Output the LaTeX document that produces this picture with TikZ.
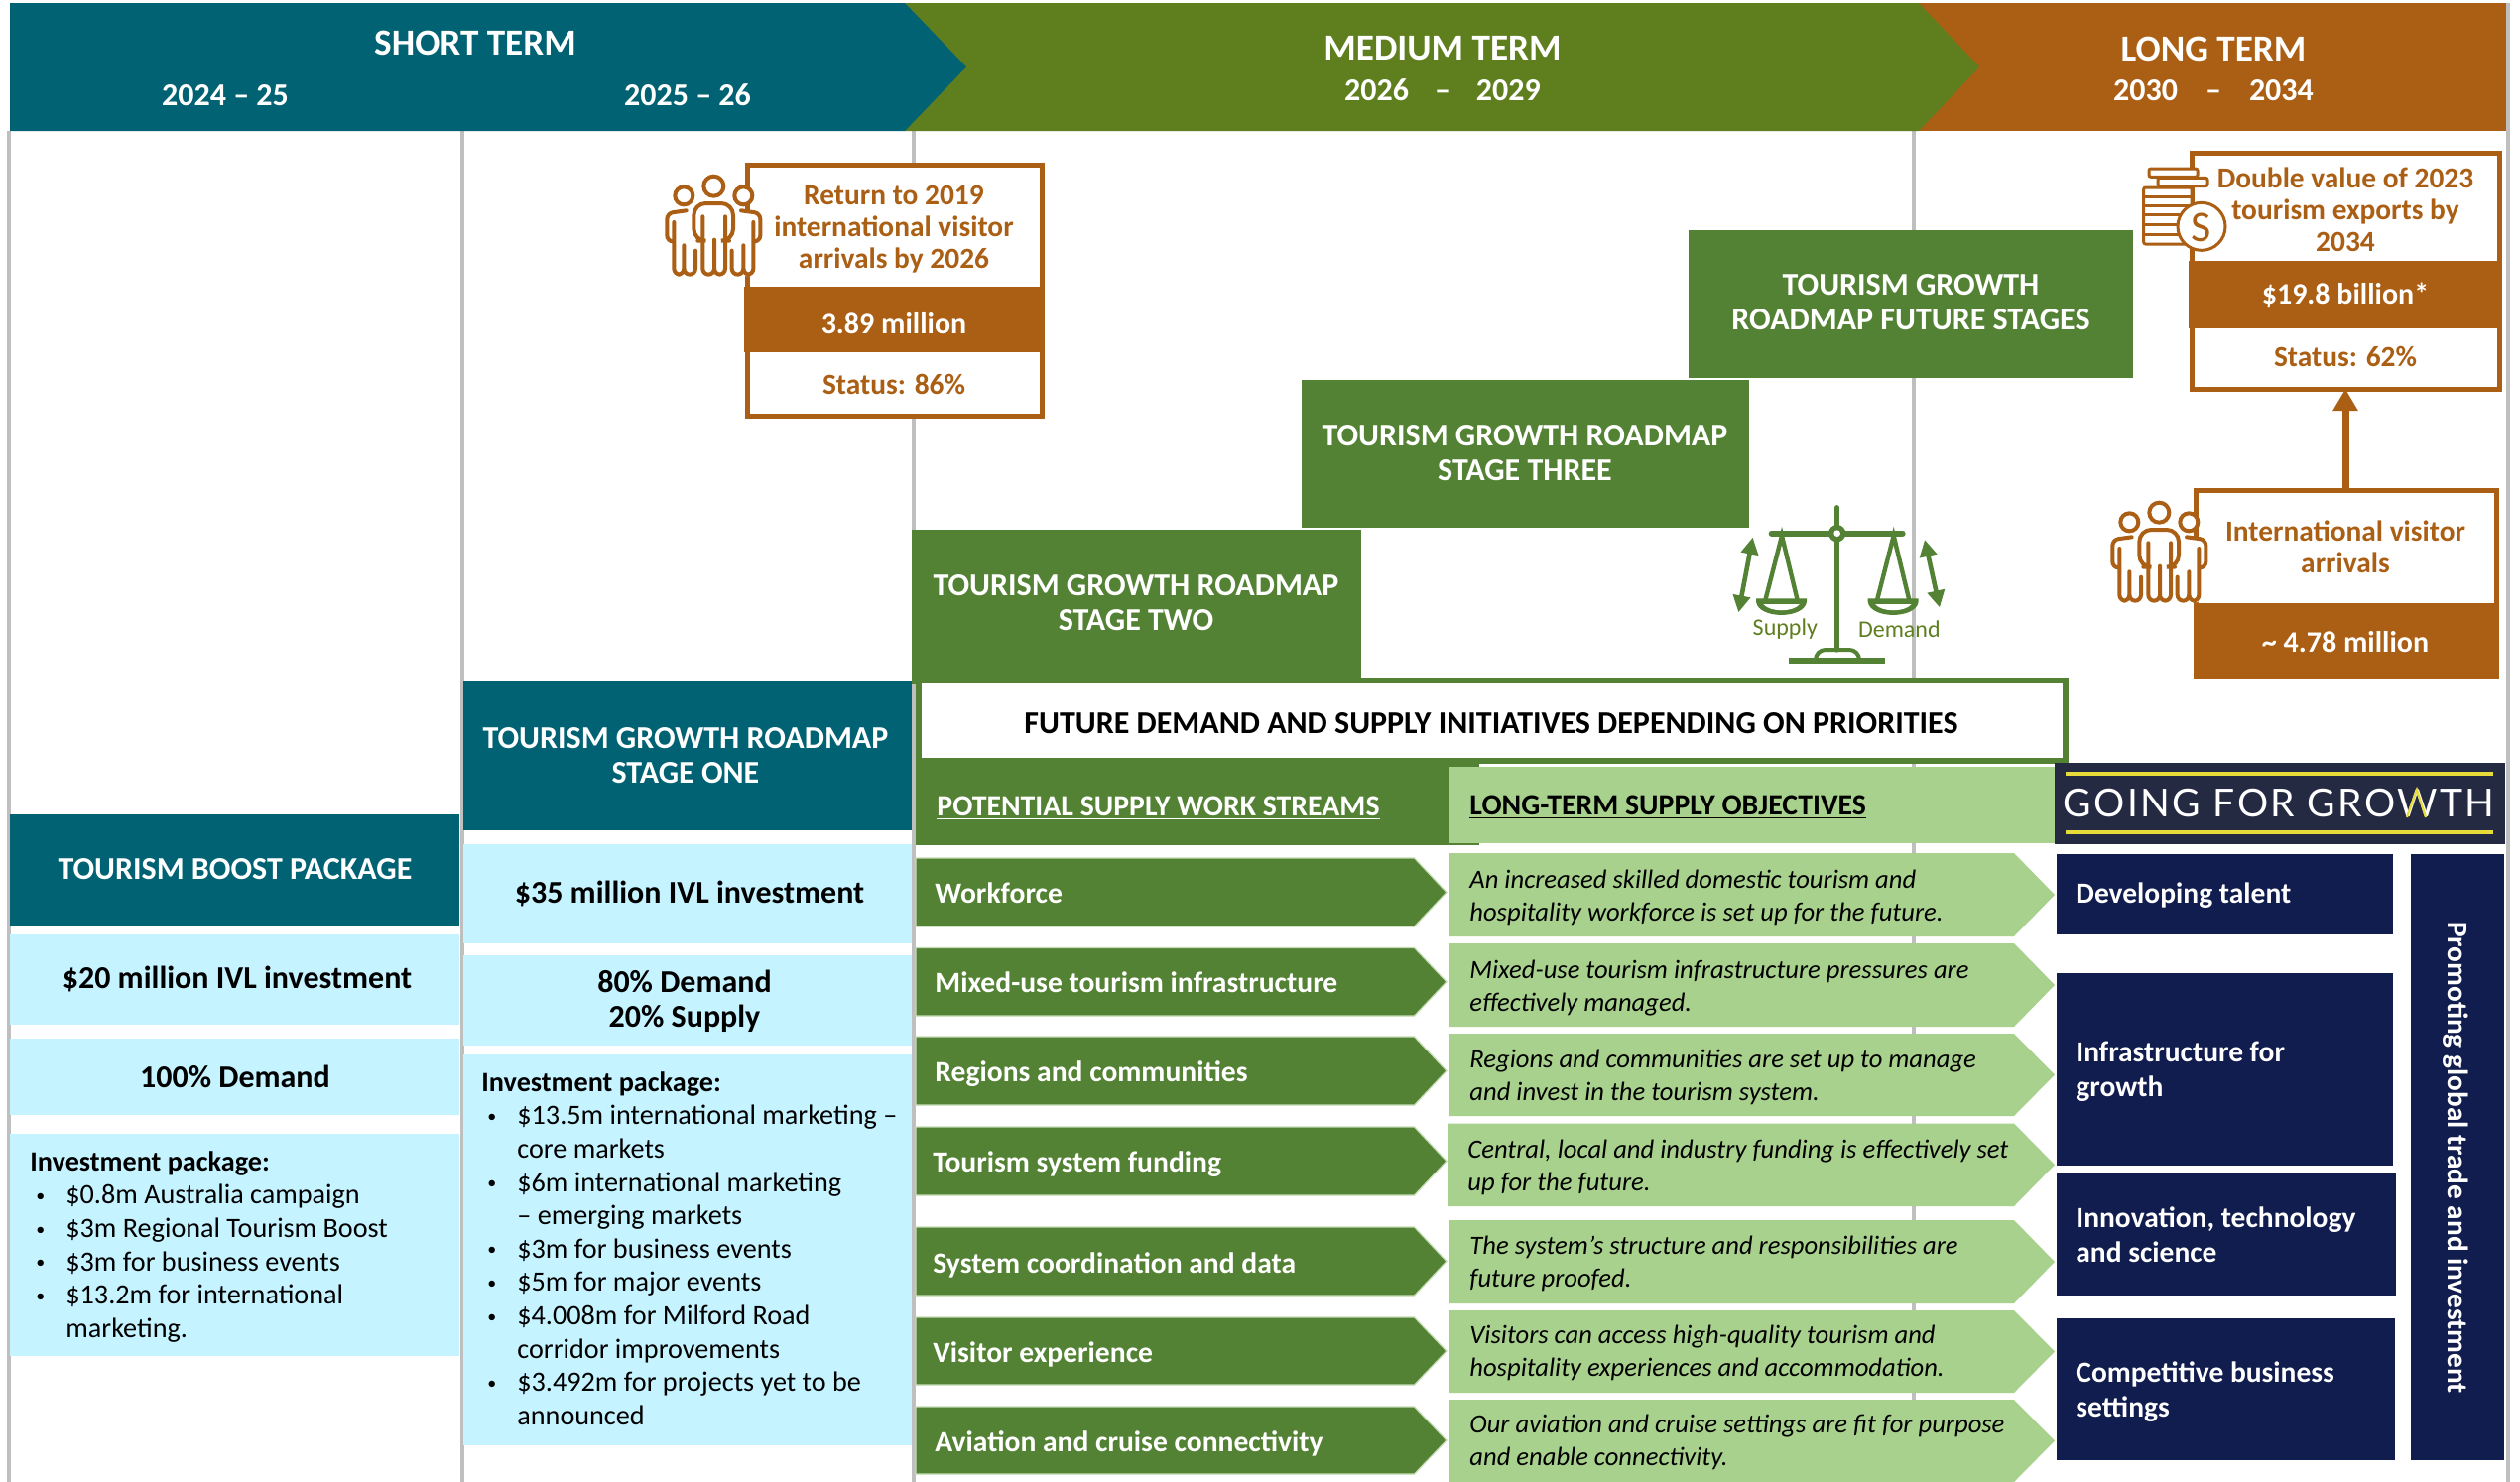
\documentclass[tikz,border=0pt]{standalone}
\usepackage{fontspec}
\setmainfont{Carlito}
\newfontfamily\gfgfont[LetterSpace=6.3]{Lato}
\usetikzlibrary{arrows.meta}
\definecolor{teal}{HTML}{006272}
\definecolor{medgreen}{HTML}{5F7F1F}
\definecolor{ochre}{HTML}{AB5F14}
\definecolor{stage}{HTML}{548235}
\definecolor{pale}{HTML}{C5F3FF}
\definecolor{lightg}{HTML}{A9D18E}
\definecolor{edgeg}{HTML}{C5DDB5}
\definecolor{navy}{HTML}{111D4E}
\definecolor{logo}{HTML}{252A43}
\definecolor{rule}{HTML}{BFBFBF}
\definecolor{yel}{HTML}{E8DC3A}
\newcommand\fsz[2][16.8]{\fontsize{#2}{#1}\selectfont}
\newcommand\bx[6][]{%
  \pgfmathsetmacro\rw{(#4-#2)*0.5}\pgfmathsetmacro\rh{(#5-#3)*0.5}%
  \node[rectangle,inner sep=0pt,outer sep=0pt,minimum width=\rw pt,minimum height=\rh pt,anchor=north west,#1] (#6) at (#2,#3) {};}
\newcommand\chev[6]{% fill x1 y1 xs tip y2
  \pgfmathsetmacro\my{(#3+#6)*0.5}%
  \fill[#1] (#2,#3)--(#4,#3)--(#5,\my)--(#4,#6)--(#2,#6)--cycle;}
\newcommand\peopleicon[2]{%
 \begin{scope}[shift={(#1,#2)},scale=0.33333,ico/.style={draw=ochre,line width=2pt,line cap=round,rounded corners=3pt}]
  \fill[white] (300,190)--(379,190)--(379,270)--(356,285)--(356,384)--(300,384)--cycle;
  \draw[ico] (155,187)--(97,195)--(97,280)--(112,280);
  \draw[ico] (118,222)--(118,380)--(148,380)--(148,292);
  \draw[ico] (148,370)--(148,380)--(183,380)--(183,308);
  \draw[ico] (205,205)--(205,380)--(240,380)--(240,275);
  \draw[ico] (240,370)--(240,380)--(273,380)--(273,205);
  \draw[ico,rounded corners=6pt] (190,278)--(178,278)--(178,165)--(297,165)--(297,278)--(285,278);
  \draw[ico] (321,187)--(379,195)--(379,280)--(364,280);
  \draw[ico] (358,222)--(358,380)--(328,380)--(328,292);
  \draw[ico] (328,370)--(328,380)--(293,380)--(293,308);
  \draw[draw=ochre,line width=2pt] (148,142) circle[radius=27];
  \draw[draw=ochre,line width=2pt] (238,113) circle[radius=30];
  \draw[draw=ochre,line width=2pt,fill=white] (328,142) circle[radius=27];
 \end{scope}}
\newcommand\scalepan{%
  \draw[stage,line width=2.2pt,line cap=round] (178,345)--(228,150)--(275,345);
  \fill[stage] (150,340)--(303,340)--(303,350) .. controls (295,403) and (158,403) .. (150,350)--cycle;
  \fill[white] (172,357)--(282,357) .. controls (262,382) and (192,382) .. cycle;}
\tikzset{
  hd/.style={text=white,font=\bfseries\fsz{18.6},inner sep=0pt},
  yr/.style={text=white,font=\bfseries\fsz{16},inner sep=0pt},
  stg/.style={text=white,font=\bfseries\fsz[17.5]{16},align=center,inner sep=0pt},
  ttl/.style={text=black,font=\bfseries\fsz[17.5]{16},align=center,inner sep=0pt},
  otx/.style={text=ochre,font=\bfseries\fsz[16]{14.7},align=center,inner sep=0pt},
  wtx/.style={text=white,font=\bfseries\fsz{15},align=center,inner sep=0pt},
  lst/.style={text=black,font=\fsz{14.1},align=left,inner sep=0pt,anchor=north west},
  grn/.style={text=white,font=\bfseries\fsz{14.8},anchor=west,inner sep=0pt},
  grh/.style={font=\bfseries\fsz{14.9},anchor=west,inner sep=0pt},
  obj/.style={text=black,font=\itshape\fsz[16.2]{13.3},align=left,anchor=west,inner sep=0pt},
  nvt/.style={text=white,font=\bfseries\fsz[17.7]{14.75},align=left,anchor=west,inner sep=0pt},
  vline/.style={draw=rule,line width=2pt},
  rowg/.style={fill=stage,draw=edgeg,line width=.6pt},
}
\newcommand\bul{\hspace*{3pt}\makebox[15pt][l]{\raisebox{1.2pt}{\fontsize{9}{9}\selectfont •}}}
\newcommand\nobul{\hspace*{18pt}}
\begin{document}
\begin{tikzpicture}[x=0.5pt,y=-0.5pt]
\useasboundingbox (0,0) rectangle (2540,1494);
\fill[white] (0,0) rectangle (2540,1494);
% rules
\draw[vline] (9,132)--(9,1494);
\draw[vline] (466,132)--(466,1494);
\draw[vline] (921,132)--(921,1494);
\draw[vline] (1929,132)--(1929,1494);
\draw[vline] (2528,3)--(2528,1494);
% header
\fill[ochre] (1934,3)--(2526,3)--(2526,132)--(1934,132)--cycle;
\chev{medgreen}{912}{3}{1934}{1995}{132}
\chev{teal}{10}{3}{912}{974}{132}
\node[hd] (shortterm) at (479,43) {SHORT TERM};
\node[yr] (y1) at (227,96) {2024 – 25};
\node[yr] (y2) at (693,96) {2025 – 26};
\node[hd] (medterm) at (1454,49) {MEDIUM TERM};
\node[yr] (y3) at (1454,91) {2026\hspace{13pt}–\hspace{13pt}2029};
\node[hd] (longterm) at (2231,49) {LONG TERM};
\node[yr] (y4) at (2231,91) {2030\hspace{14pt}–\hspace{14pt}2034};
% return box
\bx[draw=ochre,line width=2.5pt,fill=white]{753}{166}{1050}{419}{retbox}
\bx[fill=ochre]{750}{289}{1053}{355}{retband}
\node[otx] (rett) at (901,231) {Return to 2019\\international visitor\\arrivals by 2026};
\node[wtx] (retv) at (901,326) {3.89 million};
\node[otx] (rets) at (901,387) {Status: 86\%};
\peopleicon{640}{150}
% exports box
\bx[draw=ochre,line width=2.5pt,fill=white]{2209}{154}{2519}{392}{expbox}
\bx[fill=ochre]{2206}{263}{2522}{331}{expband}
\node[otx] (expt) at (2364,211.5) {Double value of 2023\\tourism exports by\\2034};
\node[wtx] (expv) at (2364,297) {\$19.8 billion*};
\node[otx] (exps) at (2364,359) {Status: 62\%};
% coins
\begin{scope}[shift={(2140,140)},scale=0.33333]
 \draw[ochre,line width=1.5pt,fill=white,rounded corners=1pt] (62,147) rectangle (207,318);
 \foreach \yy in {175,202,230,259,288} \draw[ochre,line width=1.5pt] (62,\yy)--(207,\yy);
 \draw[ochre,line width=1.5pt,fill=white,rounded corners=1pt] (78,90) rectangle (225,115);
 \draw[ochre,line width=1.5pt,fill=white,rounded corners=1pt] (105,118) rectangle (255,143);
 \draw[ochre,line width=1.5pt,fill=white] (237,265) circle[radius=72];
 \node[text=ochre,font=\fontsize{22}{22}\selectfont,inner sep=0pt] (coinS) at (237,267) {S};
\end{scope}
% arrivals box
\bx[draw=ochre,line width=2.5pt,fill=white]{2213.5}{494.5}{2516.5}{682}{arrbox}
\bx[fill=ochre]{2211}{608}{2519}{685}{arrband}
\node[otx] (arrt) at (2364,551) {International visitor\\arrivals};
\node[wtx] (arrv) at (2364,647) {\textasciitilde{} 4.78 million};
\peopleicon{2097}{479}
\draw[ochre,line width=3.5pt,-{Triangle[length=11pt,width=12pt]}] (arrbox.north -| expbox.south) -- (expbox.south);
% stages
\bx[fill=stage]{1702}{232}{2150}{381}{fut}
\node[stg] (futt) at (1926,305) {TOURISM GROWTH\\ROADMAP FUTURE STAGES};
\bx[fill=stage]{1312}{383}{1763}{532}{st3}
\node[stg] (st3t) at (1537,457) {TOURISM GROWTH ROADMAP\\STAGE THREE};
\bx[fill=stage]{919}{534}{1372}{690}{st2}
\node[stg] (st2t) at (1145,608) {TOURISM GROWTH ROADMAP\\STAGE TWO};
% scales
\begin{scope}[shift={(1720,490)},scale=0.33333]
 \draw[stage,line width=2.6pt,line cap=round] (395,65)--(395,495);
 \draw[stage,line width=3pt,line cap=round] (197,143)--(593,143);
 \fill[stage] (395,143) circle[radius=26];
 \fill[white] (395,143) circle[radius=10];
 \scalepan
 \begin{scope}[shift={(338,0)}]\scalepan\end{scope}
 \draw[stage,line width=2pt,rounded corners=5pt] (330,520)--(330,495)--(462,495)--(462,520);
 \fill[stage] (250,520) rectangle (540,538);
 \draw[stage,line width=2.3pt,{Triangle[length=8.5pt,width=8.5pt]}-{Triangle[length=8.5pt,width=8.5pt]}] (97,382)--(140,155);
 \draw[stage,line width=2.3pt,{Triangle[length=8.5pt,width=8.5pt]}-{Triangle[length=8.5pt,width=8.5pt]}] (660,162)--(705,367);
 \node[text=medgreen,font=\fsz{12},inner sep=0pt] (supply) at (238,433) {Supply};
 \node[text=medgreen,font=\fsz{12},inner sep=0pt] (demand) at (583,433) {Demand};
\end{scope}
% future demand
\bx[draw=stage,line width=3pt,fill=white]{926}{686}{2082}{767}{fdbox}
\node[ttl] (fdt) at (1503,729) {FUTURE DEMAND AND SUPPLY INITIATIVES DEPENDING ON PRIORITIES};
% work stream headers
\bx[fill=stage]{923}{766}{1491}{852}{wshead}
\bx[fill=lightg]{1460}{773}{2071}{850}{objhead}
\node[grh,text=white] (wst) at (944,815) {\underline{POTENTIAL SUPPLY WORK STREAMS}};
\node[grh,text=black] (objt) at (1481,814) {\underline{LONG-TERM SUPPLY OBJECTIVES}};
% logo
\bx[fill=logo]{2071}{769}{2525}{851}{logobox}
\draw[yel,line width=1.6pt] (2082,780)--(2513,780);
\draw[yel,line width=1.6pt] (2082,839)--(2513,839);
\node[text=white,font=\gfgfont\fontsize{19.5}{20}\selectfont,inner sep=0pt] (gfg) at (2297,810) {GOING FOR GROWTH};
\draw[yel,line width=1.1pt] (2426,824)--(2436,796)--(2445,824);
% green rows
\chev{rowg}{923}{865}{1425.5}{1458}{934}
\chev{rowg}{923}{955.5}{1425.5}{1458}{1024}
\chev{rowg}{923}{1045}{1425.5}{1458}{1114}
\chev{rowg}{923}{1136}{1425.5}{1458}{1205}
\chev{rowg}{923}{1237}{1425.5}{1458}{1306}
\chev{rowg}{923}{1328}{1425.5}{1458}{1396}
\chev{rowg}{923}{1418}{1425.5}{1458}{1486}
\node[grn] (w1) at (942,900) {Workforce};
\node[grn] (w2) at (942,990) {Mixed-use tourism infrastructure};
\node[grn] (w3) at (942,1083) {Regions and communities};
\node[grn] (w4) at (940,1174) {Tourism system funding};
\node[grn] (w5) at (940,1275) {System coordination and data};
\node[grn] (w6) at (940,1365) {Visitor experience};
\node[grn] (w7) at (942,1455) {Aviation and cruise connectivity};
% light rows
\chev{lightg}{1461}{860}{2030}{2071}{944}
\chev{lightg}{1461}{951}{2030}{2071}{1035}
\chev{lightg}{1461}{1042}{2030}{2071}{1125}
\chev{lightg}{1459}{1132.5}{2030}{2071}{1216}
\chev{lightg}{1461}{1230}{2030}{2071}{1314}
\chev{lightg}{1461}{1321}{2030}{2071}{1404}
\chev{lightg}{1461}{1411}{2030}{2071}{1494}
\node[obj] (o1) at (1481,905) {An increased skilled domestic tourism and\\hospitality workforce is set up for the future.};
\node[obj] (o2) at (1481,996) {Mixed-use tourism infrastructure pressures are\\effectively managed.};
\node[obj] (o3) at (1481,1086) {Regions and communities are set up to manage\\and invest in the tourism system.};
\node[obj] (o4) at (1479,1177) {Central, local and industry funding is effectively set\\up for the future.};
\node[obj] (o5) at (1481,1274) {The system’s structure and responsibilities are\\future proofed.};
\node[obj] (o6) at (1481,1364) {Visitors can access high-quality tourism and\\hospitality experiences and accommodation.};
\node[obj] (o7) at (1481,1454) {Our aviation and cruise settings are fit for purpose\\and enable connectivity.};
% navy
\bx[fill=navy]{2073}{861}{2412}{942}{n1}
\bx[fill=navy]{2073}{981}{2412}{1175}{n2}
\bx[fill=navy]{2073}{1183}{2415}{1306}{n3}
\bx[fill=navy]{2073}{1329}{2414}{1472}{n4}
\bx[fill=navy]{2430}{861}{2524}{1472}{n5}
\node[nvt] (n1t) at (2092,903) {Developing talent};
\node[nvt] (n2t) at (2092,1080) {Infrastructure for\\growth};
\node[nvt] (n3t) at (2092,1245) {Innovation, technology\\and science};
\node[nvt] (n4t) at (2092,1403) {Competitive business\\settings};
\node[text=white,font=\bfseries\fsz{14.65},rotate=-90,inner sep=0pt] (n5t) at (2475,1167) {Promoting global trade and investment};
% left column
\bx[fill=teal]{10}{821}{463}{933}{boost}
\node[stg] (boostt) at (237,876) {TOURISM BOOST PACKAGE};
\bx[fill=pale]{10}{942}{463}{1033}{b20}
\node[ttl] (b20t) at (239,987) {\$20 million IVL investment};
\bx[fill=pale]{10}{1047}{463}{1124}{b100}
\node[ttl] (b100t) at (237,1085) {100\% Demand};
\bx[fill=pale]{10}{1142.5}{463}{1366.5}{binv}
\node[lst] (binvt) at (30,1160) {\textbf{Investment package:}\\\bul\$0.8m Australia campaign\\\bul\$3m Regional Tourism Boost\\\bul\$3m for business events\\\bul\$13.2m for international\\\nobul marketing.};
% mid column
\bx[fill=teal]{467}{687}{919}{837}{one}
\node[stg] (onet) at (691,762) {TOURISM GROWTH ROADMAP\\STAGE ONE};
\bx[fill=pale]{467}{851}{919}{951}{m35}
\node[ttl] (m35t) at (695,901) {\$35 million IVL investment};
\bx[fill=pale]{467}{963}{919}{1054}{m80}
\node[ttl] (m80t) at (690,1009) {80\% Demand\\20\% Supply};
\bx[fill=pale]{467}{1063}{919}{1457}{minv}
\node[lst] (minvt) at (485,1080) {\textbf{Investment package:}\\\bul\$13.5m international marketing –\\\nobul core markets\\\bul\$6m international marketing\\\nobul – emerging markets\\\bul\$3m for business events\\\bul\$5m for major events\\\bul\$4.008m for Milford Road\\\nobul corridor improvements\\\bul\$3.492m for projects yet to be\\\nobul announced};
\end{tikzpicture}
\end{document}
